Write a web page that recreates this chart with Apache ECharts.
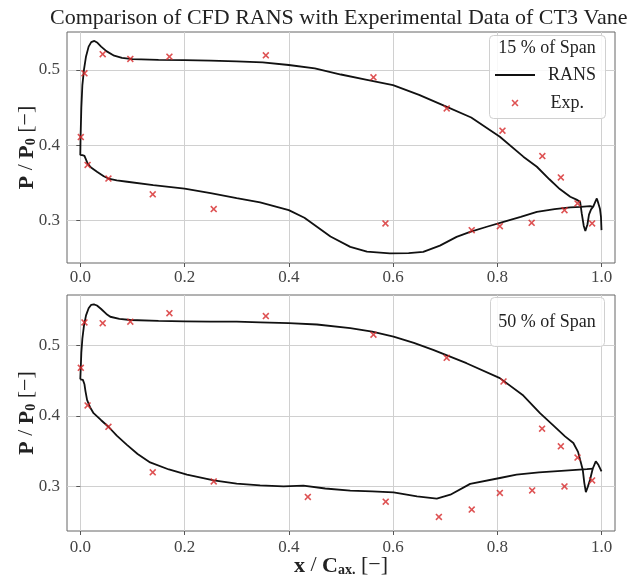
<!DOCTYPE html>
<html>
<head>
<meta charset="utf-8">
<script src="https://cdn.jsdelivr.net/npm/echarts@6/dist/echarts.min.js"></script>
<style>
html,body{margin:0;padding:0;background:#fff;}
#chart{width:642px;height:576px;}
</style>
</head>
<body>
<div id="chart"></div>
<script>
// ---------- data ----------
const xTicks = [0.0, 0.2, 0.4, 0.6, 0.8, 1.0];
const yTicks = [0.3, 0.4, 0.5];

// 15 % span: RANS suction (upper) surface
const topUpperX = [0.000,0.0005,0.002,0.004,0.007,0.011,0.016,0.021,0.027,0.033,0.040,0.050,0.065,0.080,0.100,0.150,0.200,0.250,0.300,0.350,0.400,0.450,0.500,0.550,0.600,0.650,0.700,0.750,0.805,0.850,0.876,0.900,0.920,0.940,0.952,0.959,0.962,0.966,0.969,0.973,0.976,0.980,0.984,0.988,0.991,0.994,0.997,0.999,1.000];
const topUpperY = [0.387,0.410,0.450,0.480,0.500,0.518,0.531,0.537,0.5385,0.536,0.531,0.525,0.519,0.516,0.5145,0.5135,0.513,0.5125,0.5115,0.510,0.5066,0.502,0.494,0.487,0.480,0.467,0.452,0.437,0.4114,0.385,0.3716,0.355,0.342,0.3318,0.328,0.325,0.310,0.293,0.2865,0.295,0.308,0.315,0.3185,0.325,0.3296,0.323,0.316,0.305,0.2875];
// 15 % span: RANS pressure (lower) surface
const topLowerX = [0.000,0.004,0.008,0.011,0.014,0.020,0.032,0.045,0.054,0.070,0.090,0.140,0.200,0.250,0.300,0.345,0.400,0.430,0.454,0.480,0.518,0.550,0.594,0.630,0.658,0.690,0.722,0.748,0.780,0.812,0.845,0.876,0.910,0.940,0.960,0.978,0.984];
const topLowerY = [0.387,0.387,0.386,0.381,0.376,0.371,0.365,0.359,0.356,0.3535,0.3517,0.3473,0.3425,0.3365,0.330,0.3243,0.314,0.304,0.292,0.279,0.2653,0.259,0.2566,0.257,0.2587,0.267,0.2786,0.2853,0.292,0.2985,0.305,0.3118,0.3155,0.3176,0.3185,0.3194,0.3185];
// 15 % span: experiment
const topExpX = [0.001,0.008,0.043,0.096,0.171,0.356,0.5625,0.703,0.810,0.8865,0.922,0.954,0.014,0.054,0.139,0.256,0.5855,0.751,0.805,0.866,0.929,0.982];
const topExpY = [0.411,0.4956,0.521,0.5146,0.5177,0.5195,0.4903,0.449,0.4194,0.3858,0.3575,0.323,0.374,0.356,0.335,0.3154,0.2964,0.2875,0.2928,0.2972,0.314,0.2964];

// 50 % span: RANS suction (upper) surface
const botUpperX = [0.000,0.001,0.002,0.004,0.007,0.011,0.016,0.021,0.026,0.032,0.040,0.050,0.0575,0.075,0.096,0.150,0.200,0.250,0.300,0.345,0.400,0.454,0.518,0.560,0.601,0.640,0.677,0.741,0.805,0.850,0.882,0.910,0.930,0.946,0.955,0.960,0.964,0.967,0.970,0.974,0.978,0.983,0.989,0.994,1.000];
const botUpperY = [0.452,0.470,0.490,0.510,0.528,0.543,0.553,0.558,0.5587,0.557,0.552,0.545,0.541,0.538,0.5364,0.535,0.5345,0.534,0.534,0.533,0.5318,0.530,0.5247,0.520,0.5128,0.504,0.494,0.475,0.4538,0.429,0.404,0.385,0.371,0.3616,0.349,0.335,0.3237,0.305,0.2917,0.300,0.3095,0.3247,0.3355,0.3307,0.3213];
// 50 % span: RANS pressure (lower) surface
const botLowerX = [0.000,0.005,0.008,0.010,0.013,0.019,0.0255,0.040,0.054,0.070,0.0895,0.110,0.134,0.170,0.2046,0.256,0.300,0.345,0.390,0.428,0.470,0.518,0.560,0.601,0.646,0.684,0.710,0.748,0.805,0.837,0.880,0.930,0.972,0.984];
const botLowerY = [0.452,0.4513,0.445,0.435,0.423,0.412,0.404,0.394,0.3847,0.372,0.359,0.346,0.334,0.324,0.3166,0.3085,0.304,0.3014,0.300,0.301,0.297,0.2939,0.293,0.2915,0.2858,0.2826,0.2882,0.3035,0.3119,0.3166,0.320,0.3225,0.3245,0.3252];
// 50 % span: experiment
const botExpX = [0.001,0.008,0.043,0.096,0.171,0.356,0.5625,0.703,0.812,0.886,0.922,0.954,0.982,0.014,0.054,0.139,0.256,0.4366,0.586,0.688,0.751,0.805,0.867,0.929];
const botExpY = [0.4684,0.533,0.5318,0.534,0.546,0.542,0.5156,0.4826,0.449,0.382,0.357,0.341,0.3085,0.415,0.3847,0.320,0.307,0.285,0.2783,0.2566,0.267,0.2906,0.2943,0.300];

// ---------- chart ----------
const FONT = '"Liberation Serif", "DejaVu Serif", serif';
const RED = '#d62728';
const XSYM = 'path://M0,1.6 L1.6,0 L5,3.4 L8.4,0 L10,1.6 L6.6,5 L10,8.4 L8.4,10 L5,6.6 L1.6,10 L0,8.4 L3.4,5 Z';
const zip = (a, b) => a.map((v, i) => [v, b[i]]);

const nameRich = {
  b: {fontFamily: FONT, fontSize: 22, fontWeight: 'bold', color: '#222', verticalAlign: 'bottom', lineHeight: 23},
  s: {fontFamily: FONT, fontSize: 14, fontWeight: 'bold', color: '#222', verticalAlign: 'bottom', lineHeight: 14}
};

function xAxisDef(gi, showName) {
  return {
    type: 'value', gridIndex: gi, min: -0.0255, max: 1.0259,
    axisLine: {show: false},
    axisTick: {show: true, length: 4, customValues: xTicks, lineStyle: {color: '#555'}},
    axisLabel: {customValues: xTicks, formatter: v => v.toFixed(1), fontFamily: FONT, fontSize: 17, color: '#444', margin: showName ? 8 : 6},
    splitLine: {show: true, lineStyle: {color: '#d0d0d0', width: 1}},
    name: showName ? '{b|x} / {b|C}{s|ax.} [−]' : '',
    nameLocation: 'middle', nameGap: 23, nameMoveOverlap: false,
    nameTextStyle: {fontFamily: FONT, fontSize: 22, color: '#222', rich: nameRich}
  };
}
function yAxisDef(gi, mn, mx) {
  return {
    type: 'value', gridIndex: gi, min: mn, max: mx,
    axisLine: {show: false},
    axisTick: {show: true, length: 4, customValues: yTicks, lineStyle: {color: '#555'}},
    axisLabel: {customValues: yTicks, formatter: v => v.toFixed(1), fontFamily: FONT, fontSize: 17, color: '#444', margin: 7},
    splitLine: {show: true, lineStyle: {color: '#d0d0d0', width: 1}},
    name: '{b|P} / {b|P}{s|0} [−]',
    nameLocation: 'middle', nameGap: 29, nameMoveOverlap: false,
    nameTextStyle: {fontFamily: FONT, fontSize: 22, color: '#222', rich: nameRich}
  };
}
function lineSeries(xi, x, y) {
  return {type: 'line', name: 'RANS', xAxisIndex: xi, yAxisIndex: xi, data: zip(x, y),
    showSymbol: false, symbol: 'none', smooth: false,
    lineStyle: {color: '#111', width: 1.8}, itemStyle: {color: '#111'}, z: 3, animation: false};
}
function expSeries(xi, x, y) {
  return {type: 'scatter', name: 'Exp.', xAxisIndex: xi, yAxisIndex: xi, data: zip(x, y),
    symbol: XSYM, symbolSize: 7, symbolKeepAspect: true, itemStyle: {color: RED}, z: 4, animation: false};
}

const chart = echarts.init(document.getElementById('chart'), null, {renderer: 'canvas'});
chart.setOption({
  animation: false,
  backgroundColor: '#fff',
  title: {text: 'Comparison of CFD RANS with Experimental Data of CT3 Vane', left: 50, top: 7, padding: 0,
    textStyle: {fontFamily: FONT, fontSize: 22, fontWeight: 'normal', color: '#222'}},
  grid: [
    {left: 67, right: 27, top: 32, height: 231, show: true, borderColor: '#666', borderWidth: 1, backgroundColor: 'transparent', containLabel: false, outerBoundsMode: 'none'},
    {left: 67, right: 27, top: 295, height: 236, show: true, borderColor: '#666', borderWidth: 1, backgroundColor: 'transparent', containLabel: false, outerBoundsMode: 'none'}
  ],
  xAxis: [xAxisDef(0, false), xAxisDef(1, true)],
  yAxis: [yAxisDef(0, 0.2439, 0.5504), yAxisDef(1, 0.2366, 0.5719)],
  legend: [
    {data: [{name: 'RANS', icon: 'rect'}], left: 495, top: 66, padding: 0,
      itemWidth: 40, itemHeight: 2, z: 20, selectedMode: false,
      itemStyle: {color: '#111', borderWidth: 0},
      textStyle: {fontFamily: FONT, fontSize: 18, color: '#222', padding: [0, 0, 0, 8]}},
    {data: [{name: 'Exp.', icon: XSYM}], left: 511.5, top: 94, padding: 0,
      itemWidth: 7, itemHeight: 7, z: 20, selectedMode: false,
      itemStyle: {color: RED, borderWidth: 0},
      textStyle: {fontFamily: FONT, fontSize: 18, color: '#222', padding: [0, 0, 0, 27]}}
  ],
  graphic: [
    {type: 'rect', z: 15, shape: {x: 489.5, y: 35.5, width: 116, height: 83, r: 4},
      style: {fill: 'rgba(255,255,255,0.85)', stroke: '#d0d0d0', lineWidth: 1}},
    {type: 'text', z: 16, x: 547, y: 48, style: {text: '15 % of Span', fontFamily: FONT, fontSize: 18, fill: '#222', align: 'center', verticalAlign: 'middle'}},
    {type: 'rect', z: 15, shape: {x: 490.5, y: 297.5, width: 114, height: 49, r: 4},
      style: {fill: 'rgba(255,255,255,0.85)', stroke: '#d0d0d0', lineWidth: 1}},
    {type: 'text', z: 16, x: 547, y: 322, style: {text: '50 % of Span', fontFamily: FONT, fontSize: 18, fill: '#222', align: 'center', verticalAlign: 'middle'}}
  ],
  series: [
    lineSeries(0, topUpperX, topUpperY),
    lineSeries(0, topLowerX, topLowerY),
    expSeries(0, topExpX, topExpY),
    lineSeries(1, botUpperX, botUpperY),
    lineSeries(1, botLowerX, botLowerY),
    expSeries(1, botExpX, botExpY)
  ]
});
</script>
</body>
</html>
